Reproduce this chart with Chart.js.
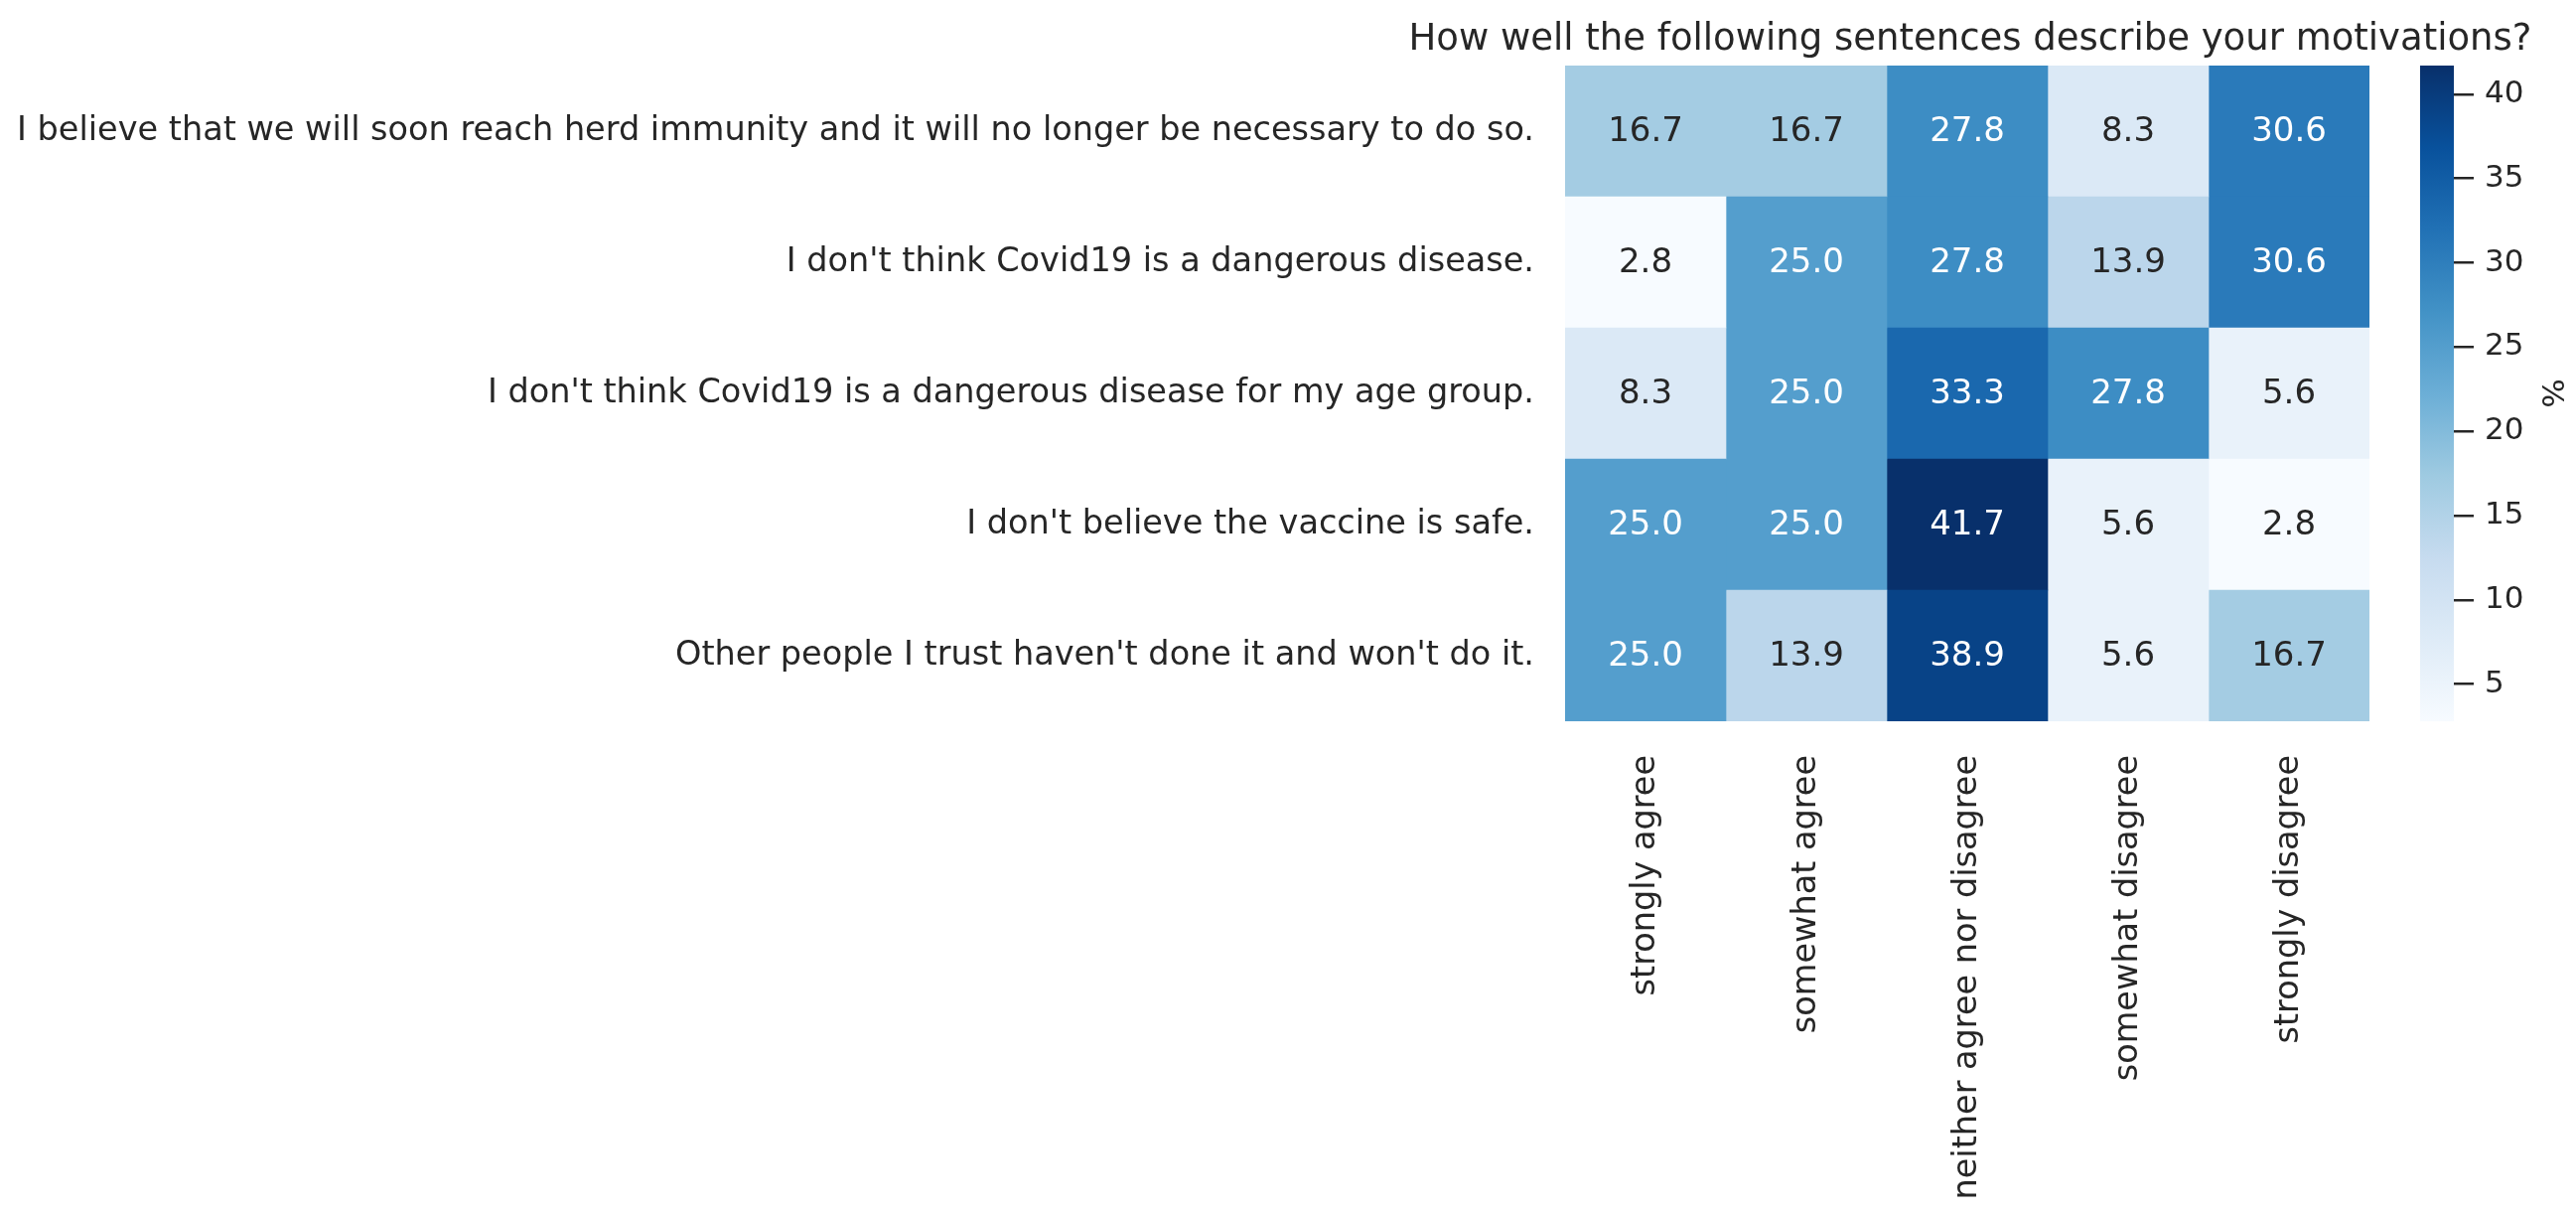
<!DOCTYPE html>
<html>
<head>
<meta charset="utf-8">
<script src="https://cdn.jsdelivr.net/npm/chart.js@4"></script>
<style>
  body { margin: 0; background: #fff; }
  #wrap { position: relative; width: 2594px; height: 1223px; }
  #mapa { position: absolute; left: 0; top: 0; }
  #barra { position: absolute; left: 2400px; top: 0; }
</style>
</head>
<body>
<div id="wrap">
  <canvas id="mapa" width="2594" height="1223"></canvas>
  <canvas id="barra" width="194" height="1223"></canvas>
</div>
<script>
// rows / columns of the heatmap
const frases = [
    "I believe that we will soon reach herd immunity and it will no longer be necessary to do so.",
    "I don't think Covid19 is a dangerous disease.",
    "I don't think Covid19 is a dangerous disease for my age group.",
    "I don't believe the vaccine is safe.",
    "Other people I trust haven't done it and won't do it."
];
const respostas = ['strongly agree', 'somewhat agree', 'neither agree nor disagree', 'somewhat disagree', 'strongly disagree'];

// % per row
const imunidade = [16.7, 16.7, 27.8, 8.3, 30.6];
const naoPerigosa = [2.8, 25.0, 27.8, 13.9, 30.6];
const faixaEtaria = [8.3, 25.0, 33.3, 27.8, 5.6];
const naoSegura = [25.0, 25.0, 41.7, 5.6, 2.8];
const outrasPessoas = [25.0, 13.9, 38.9, 5.6, 16.7];
const valores = [imunidade, naoPerigosa, faixaEtaria, naoSegura, outrasPessoas];

const ticksBarra = [5, 10, 15, 20, 25, 30, 35, 40];
const titulo = 'How well the following sentences describe your motivations?';

// matplotlib "Blues"
const blues = ['#f7fbff', '#deebf7', '#c6dbef', '#9ecae1', '#6baed6', '#4292c6', '#2171b5', '#08519c', '#08306b'];

const vmin = Math.min(...valores.flat());
const vmax = Math.max(...valores.flat());

function hexRgb(h) {
    return [parseInt(h.slice(1, 3), 16), parseInt(h.slice(3, 5), 16), parseInt(h.slice(5, 7), 16)];
}

function corDe(v) {
    let t = (v - vmin) / (vmax - vmin);
    t = Math.max(0, Math.min(1, t)) * (blues.length - 1);
    const i = Math.min(Math.floor(t), blues.length - 2);
    const f = t - i;
    const a = hexRgb(blues[i]), b = hexRgb(blues[i + 1]);
    return [0, 1, 2].map(k => Math.round(a[k] + (b[k] - a[k]) * f));
}

function rgb(c) { return `rgb(${c[0]}, ${c[1]}, ${c[2]})`; }

// same rule seaborn uses to pick the annotation colour
function corTexto(v) {
    const c = corDe(v).map(x => {
        x = x / 255;
        return x <= 0.03928 ? x / 12.92 : Math.pow((x + 0.055) / 1.055, 2.4);
    });
    const lum = 0.2126 * c[0] + 0.7152 * c[1] + 0.0722 * c[2];
    return lum > 0.408 ? '#262626' : '#ffffff';
}

Chart.defaults.font.family = "'DejaVu Sans'";
Chart.defaults.color = '#262626';

// numbers inside the cells + title centred over the cells
const rotulos = {
    id: 'rotulos',
    afterDatasetsDraw(chart) {
        const ctx = chart.ctx;
        ctx.save();
        ctx.font = "34px 'DejaVu Sans'";
        ctx.textAlign = 'center';
        ctx.textBaseline = 'middle';
        chart.data.datasets.forEach((ds, c) => {
            chart.getDatasetMeta(c).data.forEach((bar, r) => {
                const v = valores[r][c];
                const p = bar.getCenterPoint();
                ctx.fillStyle = corTexto(v);
                ctx.fillText(v.toFixed(1), p.x, p.y + 1);
            });
        });
        const a = chart.chartArea;
        ctx.font = "37px 'DejaVu Sans'";
        ctx.textBaseline = 'alphabetic';
        ctx.fillStyle = '#262626';
        ctx.fillText(titulo, (a.left + a.right) / 2 + 3, 50);
        ctx.restore();
    }
};

// one dataset per answer column, each cell is a floating bar [c, c+1]
const datasets = respostas.map((resp, c) => ({
    label: resp,
    data: frases.map(() => [c, c + 1]),
    backgroundColor: valores.map(linha => rgb(corDe(linha[c]))),
    borderWidth: 0,
    borderSkipped: false,
    grouped: false,
    barPercentage: 1,
    categoryPercentage: 1
}));

new Chart(document.getElementById('mapa'), {
    type: 'bar',
    data: { labels: frases, datasets: datasets },
    options: {
        indexAxis: 'y',
        responsive: false,
        animation: false,
        devicePixelRatio: 1,
        layout: { padding: { left: 0, right: 208, top: 66, bottom: 0 } },
        plugins: {
            legend: { display: false },
            tooltip: { enabled: false },
            title: { display: false }
        },
        scales: {
            x: { type: 'linear', min: 0, max: respostas.length, display: false },
            xl: {
                type: 'category',
                labels: respostas,
                position: 'bottom',
                offset: true,
                grid: { display: false, drawTicks: false },
                border: { display: false },
                ticks: { autoSkip: false, minRotation: 90, maxRotation: 90, padding: 34, font: { size: 33.5 } },
                afterFit(s) { s.height = 497; }
            },
            y: {
                grid: { display: false, drawTicks: false },
                border: { display: false },
                ticks: { padding: 31, font: { size: 33.5 } },
                afterFit(s) { s.width = 1576; }
            }
        }
    },
    plugins: [rotulos]
});

// colour bar
new Chart(document.getElementById('barra'), {
    type: 'bar',
    data: {
        labels: [''],
        datasets: [{
            data: [[vmin, vmax]],
            backgroundColor(ctx) {
                const area = ctx.chart.chartArea;
                if (!area) return null;
                const g = ctx.chart.ctx.createLinearGradient(0, area.bottom, 0, area.top);
                blues.forEach((c, i) => g.addColorStop(i / (blues.length - 1), c));
                return g;
            },
            borderWidth: 0,
            borderSkipped: false,
            barPercentage: 1,
            categoryPercentage: 1
        }]
    },
    options: {
        responsive: false,
        animation: false,
        devicePixelRatio: 1,
        layout: { padding: { left: 37, right: 0, top: 66, bottom: 497 } },
        plugins: { legend: { display: false }, tooltip: { enabled: false } },
        scales: {
            x: { display: false },
            y: {
                position: 'right',
                min: vmin,
                max: vmax,
                afterBuildTicks(s) { s.ticks = ticksBarra.map(v => ({ value: v })); },
                grid: { drawOnChartArea: false, drawTicks: true, tickLength: 20, color: '#262626', lineWidth: 2.5 },
                border: { display: false },
                ticks: { padding: 11, font: { size: 31 } },
                title: { display: true, text: '%', font: { size: 31 }, padding: { top: 7, bottom: 4 } },
                afterFit(s) { s.width = 123; }
            }
        }
    }
});
</script>
</body>
</html>
